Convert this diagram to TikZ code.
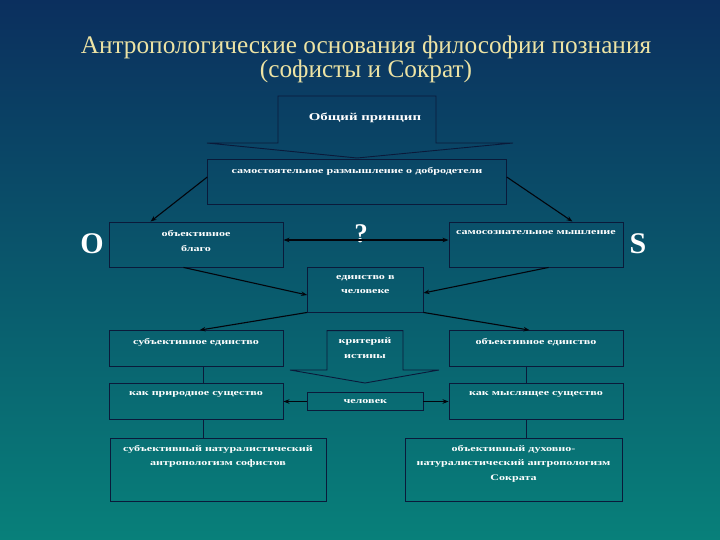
\documentclass[tikz,border=0pt]{standalone}
\usepackage{fontspec}
\setmainfont{Liberation Serif}
\newfontfamily\boxfont[FakeStretch=1.42]{Liberation Serif}
\usepackage{xcolor}
\usepackage{tikz}
\usetikzlibrary{positioning,arrows.meta}

\definecolor{bgtop}{HTML}{0B2F5E}
\definecolor{bgbot}{HTML}{08807A}
\definecolor{edge}{HTML}{0A1A3A}
\definecolor{titlecol}{HTML}{EDE3A4}

\tikzset{
  box/.style={draw=edge, line width=0.9pt, inner sep=0pt},
  txt/.style={text=white, font=\boxfont\bfseries\fontsize{8.5}{14.5}\selectfont, align=center, inner sep=0pt},
  arr/.style={draw=black!80!edge, line width=1.1pt, -{Stealth[length=6pt,width=4.5pt]}},
}

\begin{document}
\begin{tikzpicture}[x=1pt,y=-1pt]

\shade[top color=bgtop, bottom color=bgbot] (0,0) rectangle (720,540);
\useasboundingbox (0,0) rectangle (720,540);

\node[text=titlecol, font=\fontsize{25.3}{24}\selectfont, align=center] (title) at (366,59)
  {Антропологические основания философии познания\\(софисты и Сократ)};

% block arrow: general principle
\draw[edge, line width=0.9pt] (278,96)--(436,96)--(436,143)--(513,143)--(357,158)--(207,143)--(278,143)--cycle;
\node[txt, font=\boxfont\bfseries\fontsize{10.5}{12}\selectfont] (principle) at (365,118) {Общий принцип};

\node[box, minimum width=298.5pt, minimum height=45pt] (topbox) at (357,181.5) {};
\node[txt, below=9pt of topbox.north] (topboxtxt) {самостоятельное размышление о добродетели};

\node[box, minimum width=174pt, minimum height=45pt] (good) at (196,244.5) {};
\node[txt, below=9pt of good.north] (goodtxt) {объективное\\благо};

\node[box, minimum width=174pt, minimum height=45pt] (selfthink) at (536,244.5) {};
\node[txt, below=9pt of selfthink.north] (selfthinktxt) {самосознательное мышление};

\node[text=white, font=\bfseries\fontsize{30}{30}\selectfont] (objO) at (92,244) {O};
\node[text=white, font=\bfseries\fontsize{30}{30}\selectfont] (subjS) at (638,244) {S};
\node[text=white, font=\bfseries\fontsize{27}{27}\selectfont] (quest) at (361,234) {?};

\node[box, minimum width=115.4pt, minimum height=45pt] (unity) at (365.3,289.5) {};
\node[txt, below=8.5pt of unity.north] (unitytxt) {единство в\\человеке};

\node[box, minimum width=174pt, minimum height=35.4pt] (subjunity) at (196,348.3) {};
\node[txt, below=8pt of subjunity.north] (subjunitytxt) {субъективное единство};

\node[box, minimum width=174pt, minimum height=35.4pt] (objunity) at (536,348.3) {};
\node[txt, below=8pt of objunity.north] (objunitytxt) {объективное единство};

% block arrow: criterion of truth
\draw[edge, line width=0.9pt] (327,330.6)--(403,330.6)--(403,370)--(439,370)--(365,383)--(290,370)--(327,370)--cycle;
\node[txt] (criterion) at (365,348) {критерий\\истины};

\node[box, minimum width=115.4pt, minimum height=18pt] (man) at (365.3,401.5) {};
\node[txt] (mantxt) at (man.center) {человек};

\node[box, minimum width=174pt, minimum height=36pt] (natural) at (196,401) {};
\node[txt, below=9pt of natural.north] (naturaltxt) {как природное существо};

\node[box, minimum width=174pt, minimum height=36pt] (thinking) at (536,401) {};
\node[txt, below=9pt of thinking.north] (thinkingtxt) {как мыслящее существо};

\node[box, minimum width=216pt, minimum height=63pt] (sophists) at (218,469.5) {};
\node[txt, below=7.5pt of sophists.north] (sophiststxt) {субъективный натуралистический\\антропологизм софистов};

\node[box, minimum width=217pt, minimum height=63pt] (socrates) at (513.5,469.5) {};
\node[txt, below=7.5pt of socrates.north] (socratestxt) {объективный духовно-\\натуралистический антропологизм\\Сократа};

\draw[arr] ([yshift=4.5pt]topbox.west) -- ([xshift=42pt]good.north west);
\draw[arr] ([yshift=4.5pt]topbox.east) -- ([xshift=-51pt]selfthink.north east);
\draw[arr, {Stealth[length=6pt,width=4.5pt]}-{Stealth[length=6pt,width=4.5pt]}] ([yshift=4.5pt]good.east) -- ([yshift=4.5pt]selfthink.west);
\draw[arr] ([xshift=75pt]good.south west) -- ([yshift=-5.5pt]unity.west);
\draw[arr] ([xshift=100pt]selfthink.south west) -- ([yshift=-3.5pt]unity.east);
\draw[arr] (unity.south west) -- ([xshift=91pt]subjunity.north west);
\draw[arr] (unity.south east) -- ([xshift=81pt]objunity.north west);
\draw[arr, line width=0.8pt] (man.west) -- (man.west -| natural.east);
\draw[arr, line width=0.8pt] (man.east) -- (man.east -| thinking.west);

\draw[edge, line width=0.8pt] ([xshift=95pt]subjunity.south west) -- ([xshift=95pt]natural.north west);
\draw[edge, line width=0.8pt] ([xshift=95pt]natural.south west) -- ([xshift=95pt]natural.south west |- sophists.north);
\draw[edge, line width=0.8pt] ([xshift=78pt]objunity.south west) -- ([xshift=78pt]thinking.north west);
\draw[edge, line width=0.8pt] ([xshift=78pt]thinking.south west) -- ([xshift=78pt]thinking.south west |- socrates.north);

\end{tikzpicture}
\end{document}
